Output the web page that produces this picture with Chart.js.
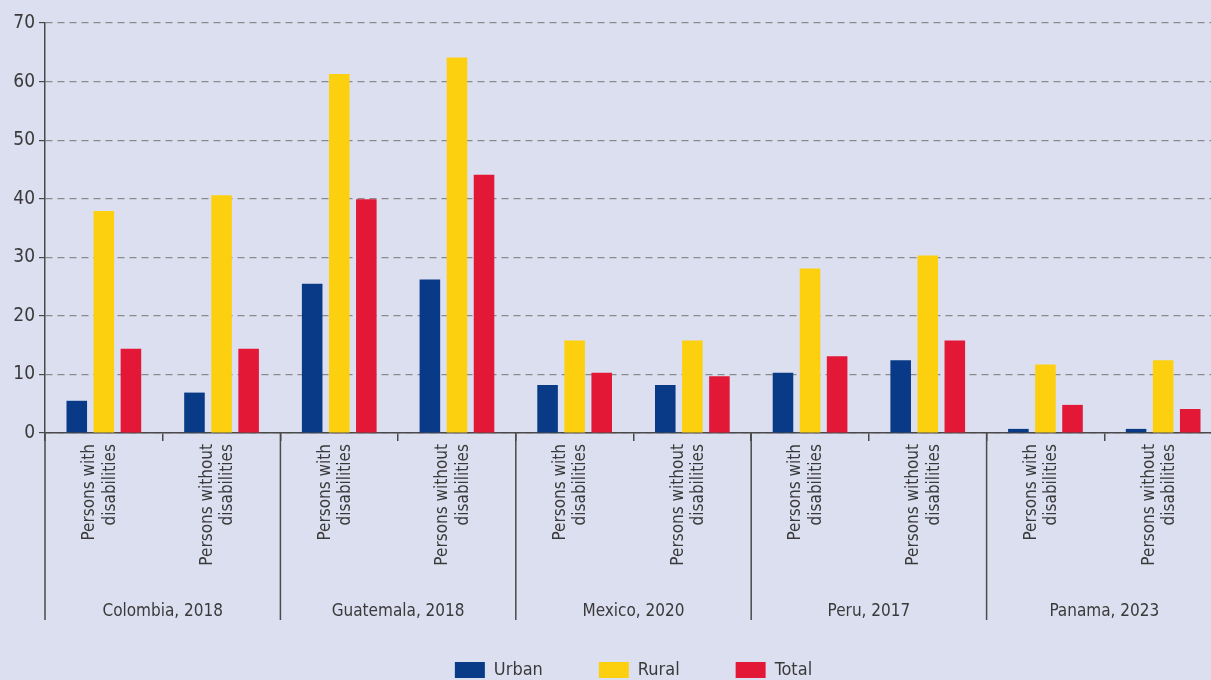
<!DOCTYPE html>
<html>
<head>
<meta charset="utf-8">
<script src="https://cdn.jsdelivr.net/npm/chart.js@4.4.1/dist/chart.umd.min.js"></script>
<style>
  html, body { margin: 0; padding: 0; background: #dcdff0; overflow: hidden; }
  #wrap { position: relative; width: 1222px; height: 680px; }
</style>
</head>
<body>
<div id="wrap"><canvas id="chart"></canvas></div>
<script>
// sub-categories along the x axis, two per country
const categories = [
  ['Persons with', 'disabilities'], ['Persons without', 'disabilities'],
  ['Persons with', 'disabilities'], ['Persons without', 'disabilities'],
  ['Persons with', 'disabilities'], ['Persons without', 'disabilities'],
  ['Persons with', 'disabilities'], ['Persons without', 'disabilities'],
  ['Persons with', 'disabilities'], ['Persons without', 'disabilities']
];
const groups = ['Colombia, 2018', 'Guatemala, 2018', 'Mexico, 2020', 'Peru, 2017', 'Panama, 2023'];

const urban = [5.5, 6.9, 25.5, 26.2, 8.2, 8.2, 10.3, 12.4, 0.7, 0.7];
const rural = [37.9, 40.6, 61.3, 64.1, 15.8, 15.8, 28.1, 30.3, 11.7, 12.4];
const total = [14.4, 14.4, 39.9, 44.1, 10.3, 9.7, 13.1, 15.8, 4.8, 4.1];

const FONT = "'Liberation Sans Narrow', 'DejaVu Sans Condensed', 'Roboto', sans-serif";
const TEXT = '#3a3a3a';
const AXIS = '#4a4a4a';

// country names under the sub-categories + long separators between countries
const groupPlugin = {
  id: 'groupLabels',
  afterDraw(chart) {
    const ctx = chart.ctx;
    const x = chart.scales.x;
    const bottom = chart.chartArea.bottom;
    const edge = i => {
      if (i === 0) return chart.chartArea.left;
      return (x.getPixelForTick(i - 1) + x.getPixelForTick(i)) / 2;
    };
    ctx.save();
    ctx.strokeStyle = AXIS;
    ctx.lineWidth = 1.5;
    for (let g = 0; g < groups.length; g++) {
      const left = edge(g * 2);
      ctx.beginPath();
      ctx.moveTo(left, bottom);
      ctx.lineTo(left, 620);
      ctx.stroke();
    }
    ctx.fillStyle = TEXT;
    ctx.font = '17px ' + FONT;
    ctx.textAlign = 'center';
    ctx.textBaseline = 'middle';
    groups.forEach((name, g) => {
      const cx = (x.getPixelForTick(g * 2) + x.getPixelForTick(g * 2 + 1)) / 2;
      ctx.fillText(name, cx, 612);
    });
    ctx.restore();
  }
};

new Chart(document.getElementById('chart'), {
  type: 'bar',
  data: {
    labels: categories,
    datasets: [
      { label: 'Urban', data: urban, backgroundColor: '#083a87' },
      { label: 'Rural', data: rural, backgroundColor: '#fdd00f' },
      { label: 'Total', data: total, backgroundColor: '#e31837' }
    ]
  },
  options: {
    responsive: true,
    maintainAspectRatio: false,
    animation: false,
    categoryPercentage: 0.69,
    barPercentage: 0.76,
    layout: { padding: { top: 23, left: 0, right: 0, bottom: -9 } },
    plugins: {
      legend: {
        position: 'bottom',
        fullSize: false,
        labels: {
          boxWidth: 30,
          boxHeight: 16,
          padding: 56,
          color: TEXT,
          font: { family: FONT, size: 18 }
        }
      },
      tooltip: { enabled: false }
    },
    scales: {
      x: {
        grid: { drawOnChartArea: false, offset: true, tickLength: 8, color: AXIS, lineWidth: 1.5 },
        border: { color: AXIS, width: 1.5 },
        ticks: {
          maxRotation: 90, minRotation: 90, autoSkip: false, padding: 3, labelOffset: -14,
          color: TEXT, font: { family: FONT, size: 17 }
        },
        afterFit: s => { s.height = 172; }
      },
      y: {
        min: 0, max: 70,
        grid: { color: '#8a8a8a', lineWidth: 1.2, tickLength: 6, tickColor: AXIS },
        border: { color: AXIS, width: 1.5, dash: [7, 5] },
        ticks: { stepSize: 10, padding: 4, color: TEXT, font: { family: FONT, size: 19 } },
        afterFit: s => { s.width = 45; }
      }
    }
  },
  plugins: [groupPlugin]
});
</script>
</body>
</html>
